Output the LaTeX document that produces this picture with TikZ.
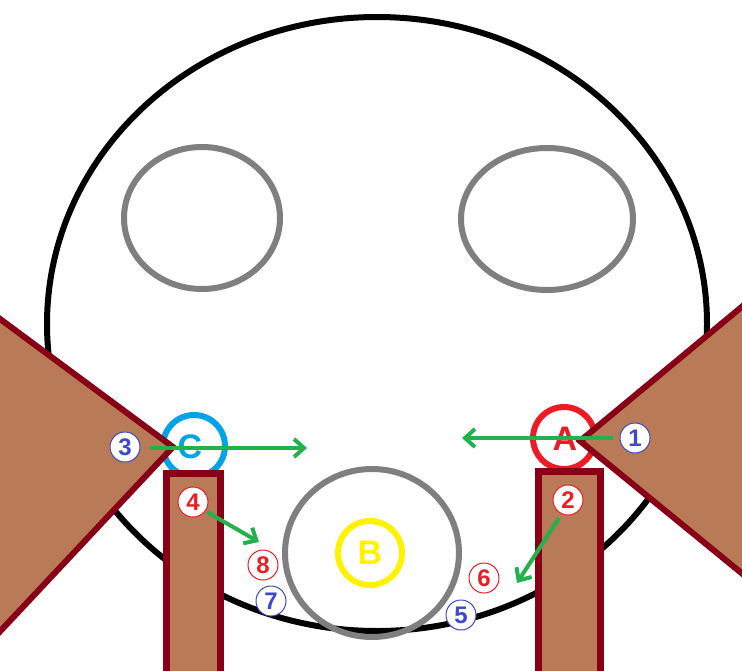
\documentclass[tikz,border=0pt]{standalone}
\usepackage{fontspec}
\setmainfont{Liberation Sans}
\usetikzlibrary{arrows.meta}
\definecolor{brownf}{RGB}{185,122,87}
\definecolor{darkred}{RGB}{136,0,21}
\definecolor{grayl}{RGB}{127,127,127}
\definecolor{grn}{RGB}{34,177,76}
\definecolor{blc}{RGB}{0,162,232}
\definecolor{rdc}{RGB}{237,28,36}
\definecolor{ylc}{RGB}{255,242,0}
\definecolor{nbl}{RGB}{63,72,204}
\tikzset{
  face/.style={line width=6pt},
  graycirc/.style={draw=grayl,line width=6pt},
  wedge/.style={fill=brownf,draw=darkred,line width=6pt,line join=miter},
  post/.style={fill=brownf,draw=darkred,line width=7pt},
  letter/.style={font=\fontsize{34}{34}\selectfont\bfseries,inner sep=0pt},
  arr/.style={draw=grn,line width=4pt,-{Straight Barb[length=10pt,width=18pt,line width=4pt]}},
  num/.style={circle,fill=white,draw,line width=1pt,minimum size=30pt,inner sep=0pt,font=\fontsize{24}{24}\selectfont\bfseries},
  bnum/.style={num,draw=nbl,text=nbl},
  rnum/.style={num,draw=rdc,text=rdc}
}
\begin{document}
\begin{tikzpicture}[x=1pt,y=-1pt]
\useasboundingbox (0,0) rectangle (742,670);
\clip (0,0) rectangle (742,670);
\fill[white] (0,0) rectangle (742,670);
% head
\draw[face] (377,324) ellipse [x radius=330, y radius=307];
% eyes
\draw[graycirc] (202,218) ellipse [x radius=78, y radius=71];
\draw[graycirc] (547,219) ellipse [x radius=86, y radius=71];
% mouth
\draw[graycirc] (372,553) ellipse [x radius=87, y radius=84];
% B
\draw[draw=ylc,line width=6pt] (370,553) circle [radius=32];
\node[letter,text=ylc] (B) at (370,553) {B};
% A and C
\draw[draw=blc,line width=6pt] (194,446) circle [radius=31];
\node[letter,text=blc] (C) at (190,447) {C};
\draw[draw=rdc,line width=6pt] (564,438) circle [radius=31];
\node[letter,text=rdc] (A) at (565,439) {A};
% wedges
\draw[wedge] (-8,313) -- (173,447) -- (-8,640) -- cycle;
\draw[wedge] (750,300) -- (580,441) -- (750,580) -- cycle;
% posts
\draw[post] (166.5,473.5) rectangle (220.5,690);
\draw[post] (538.5,471.5) rectangle (600,690);
% numbers
\node[bnum] (n1) at (635,438) {1};
\node[rnum] (n2) at (568,500) {2};
\node[bnum] (n3) at (125,447) {3};
\node[rnum] (n4) at (193,502) {4};
\node[bnum] (n5) at (461,615) {5};
\node[rnum] (n6) at (484,578) {6};
\node[bnum] (n7) at (271,601) {7};
\node[rnum] (n8) at (263,565) {8};
% arrow ends
\coordinate (t1) at (462,438);
\coordinate (t3) at (307,448);
\coordinate (t4) at (259,542);
\coordinate (t2) at (517,583);
\draw[arr,shorten <=7pt] (n1.west) -- (t1);
\draw[arr,shorten <=9pt] (n3.east |- t3) -- (t3);
\draw[arr] (207,512) -- (t4);
\draw[arr] (559,518) -- (t2);
\end{tikzpicture}
\end{document}
